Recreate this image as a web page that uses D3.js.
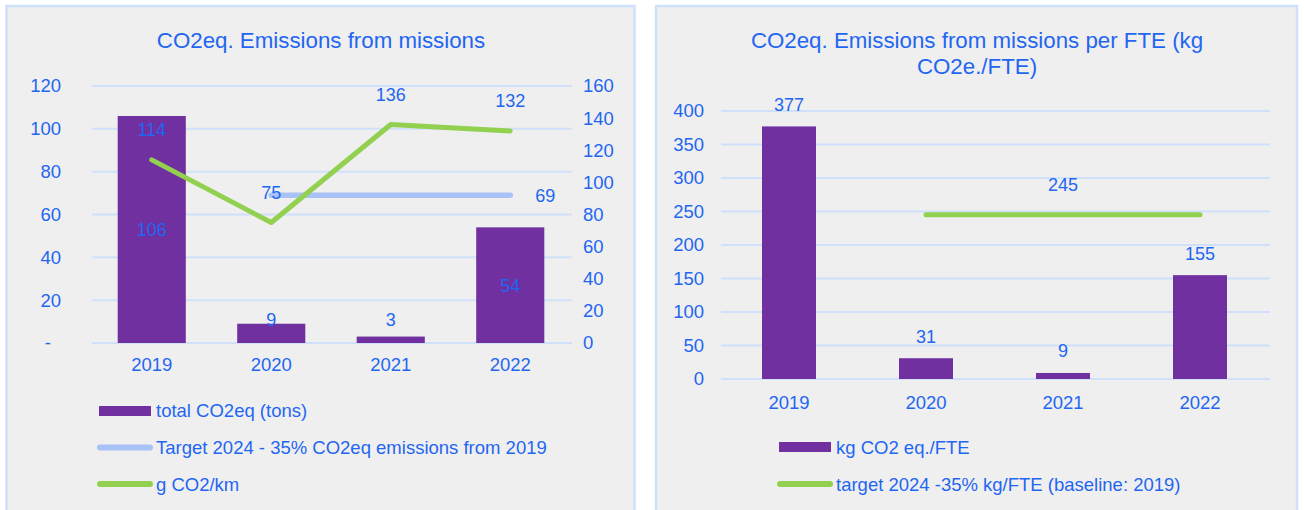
<!DOCTYPE html>
<html>
<head>
<meta charset="utf-8">
<script src="https://cdn.jsdelivr.net/npm/d3@7"></script>
<style>
  body { margin: 0; background: #ffffff; }
  svg text { font-family: "Liberation Sans", Arial, sans-serif; fill: #1f66f2; }
</style>
</head>
<body>
<div id="chart"></div>
<script>
// data
var years = ["2019", "2020", "2021", "2022"];
var totalCO2 = [106, 9, 3, 54];            // tons, left axis
var gCO2km = [114, 75, 136, 132];           // right axis
var target2024 = [null, 69, 69, 69];        // left axis
var kgPerFte = [377, 31, 9, 155];
var targetFte = [null, 245, 245, 245];

var leftTicks = [0, 20, 40, 60, 80, 100, 120];
var rightTicks = [0, 20, 40, 60, 80, 100, 120, 140, 160];
var fteTicks = [0, 50, 100, 150, 200, 250, 300, 350, 400];

var purple = "#7030a0";
var green = "#92d050";
var lightBlue = "#a9c2f6";
var gridColor = "#d0e0fb";
var textBlue = "#1f66f2";

var svg = d3.select("#chart")
  .append("svg")
  .attr("width", 1304)
  .attr("height", 510);

// panels
svg.append("rect")
  .attr("x", 6.5).attr("y", 6).attr("width", 628).attr("height", 520)
  .attr("fill", "#efefef").attr("stroke", "#cfe0fb").attr("stroke-width", 2.5);
svg.append("rect")
  .attr("x", 656).attr("y", 6).attr("width", 641).attr("height", 520)
  .attr("fill", "#efefef").attr("stroke", "#cfe0fb").attr("stroke-width", 2.5);

// ---------- left chart ----------
var x1 = d3.scaleBand()
  .domain(years)
  .range([92, 570])
  .paddingInner(0.43)
  .paddingOuter(0.215);

var y1 = d3.scaleLinear().domain([0, 120]).range([343, 86]);
var y1r = d3.scaleLinear().domain([0, 160]).range([343, 86]);

var left = svg.append("g");

left.selectAll(".grid")
  .data(leftTicks)
  .enter()
  .append("line")
  .attr("x1", 92).attr("x2", 572)
  .attr("y1", d => y1(d)).attr("y2", d => y1(d))
  .attr("stroke", gridColor).attr("stroke-width", 2);

var leftAxis = d3.axisLeft(y1).tickValues(leftTicks).tickSize(0).tickPadding(31)
  .tickFormat(d => d === 0 ? "-" : d);
var gl = left.append("g").attr("transform", "translate(92,0)").call(leftAxis);
gl.select(".domain").remove();
gl.selectAll("text").style("font-size", "18.5px").attr("fill", textBlue);
gl.selectAll("text").filter(d => d === 0).attr("dx", "-10");

var rightAxis = d3.axisRight(y1r).tickValues(rightTicks).tickSize(0).tickPadding(13);
var gr = left.append("g").attr("transform", "translate(570,0)").call(rightAxis);
gr.select(".domain").remove();
gr.selectAll("text").style("font-size", "18.5px").attr("fill", textBlue);

var bottom1 = d3.axisBottom(x1).tickSize(0).tickPadding(14.5);
var gb = left.append("g").attr("transform", "translate(0,343)").call(bottom1);
gb.select(".domain").remove();
gb.selectAll("text").style("font-size", "18.5px").attr("fill", textBlue);

// bars
left.selectAll(".bar")
  .data(totalCO2)
  .enter()
  .append("rect")
  .attr("x", (d, i) => x1(years[i]))
  .attr("y", d => y1(d))
  .attr("width", x1.bandwidth())
  .attr("height", d => y1(0) - y1(d))
  .attr("fill", purple);

// target line (left axis)
var targetPts = years.map((yr, i) => [yr, target2024[i]]).filter(p => p[1] !== null);
var line1 = d3.line()
  .x(p => x1(p[0]) + x1.bandwidth() / 2)
  .y(p => y1(p[1]));
left.append("path")
  .attr("d", line1(targetPts))
  .attr("fill", "none").attr("stroke", lightBlue)
  .attr("stroke-width", 5.5).attr("stroke-linecap", "round");

// g CO2/km (right axis)
var kmPts = years.map((yr, i) => [yr, gCO2km[i]]);
var line2 = d3.line()
  .x(p => x1(p[0]) + x1.bandwidth() / 2)
  .y(p => y1r(p[1]));
left.append("path")
  .attr("d", line2(kmPts))
  .attr("fill", "none").attr("stroke", green)
  .attr("stroke-width", 5).attr("stroke-linejoin", "round").attr("stroke-linecap", "round");

// bar labels
left.selectAll(".barlabel")
  .data(totalCO2)
  .enter()
  .append("text")
  .attr("x", (d, i) => x1(years[i]) + x1.bandwidth() / 2)
  .attr("y", d => Math.min((y1(d) + y1(0)) / 2, y1(0) - 23))
  .attr("dy", "0.36em")
  .attr("text-anchor", "middle")
  .style("font-size", "18px")
  .text(d => d);

// line labels
left.selectAll(".kmlabel")
  .data(gCO2km)
  .enter()
  .append("text")
  .attr("x", (d, i) => x1(years[i]) + x1.bandwidth() / 2)
  .attr("y", d => y1r(d) - 30)
  .attr("dy", "0.36em")
  .attr("text-anchor", "middle")
  .style("font-size", "18px")
  .text(d => d);

var lastT = targetPts[targetPts.length - 1];
left.append("text")
  .attr("x", x1(lastT[0]) + x1.bandwidth() / 2 + 25)
  .attr("y", y1(lastT[1]))
  .attr("dy", "0.36em")
  .style("font-size", "18px")
  .text(lastT[1]);

// title
left.append("text")
  .attr("x", 321).attr("y", 40).attr("dy", "0.36em")
  .attr("text-anchor", "middle")
  .style("font-size", "22.3px")
  .text("CO2eq. Emissions from missions");

// legend
var leg1 = left.append("g");
leg1.append("rect").attr("x", 99).attr("y", 406).attr("width", 52).attr("height", 10).attr("fill", purple);
leg1.append("line").attr("x1", 100).attr("x2", 150).attr("y1", 447.5).attr("y2", 447.5)
  .attr("stroke", lightBlue).attr("stroke-width", 6).attr("stroke-linecap", "round");
leg1.append("line").attr("x1", 100).attr("x2", 150).attr("y1", 484).attr("y2", 484)
  .attr("stroke", green).attr("stroke-width", 6).attr("stroke-linecap", "round");
var legTexts1 = ["total CO2eq (tons)", "Target 2024 - 35% CO2eq emissions from 2019", "g CO2/km"];
leg1.selectAll(".lt")
  .data(legTexts1)
  .enter()
  .append("text")
  .attr("x", 156)
  .attr("y", (d, i) => [410.5, 447.5, 484][i])
  .attr("dy", "0.36em")
  .style("font-size", "18.5px")
  .text(d => d);

// ---------- right chart ----------
var x2 = d3.scaleBand()
  .domain(years)
  .range([720.5, 1268.5])
  .paddingInner(0.606)
  .paddingOuter(0.303);

var y2 = d3.scaleLinear().domain([0, 400]).range([379, 111]);

var right = svg.append("g");

right.selectAll(".grid")
  .data(fteTicks)
  .enter()
  .append("line")
  .attr("x1", 721).attr("x2", 1270)
  .attr("y1", d => y2(d)).attr("y2", d => y2(d))
  .attr("stroke", gridColor).attr("stroke-width", 2);

var fteAxis = d3.axisLeft(y2).tickValues(fteTicks).tickSize(0).tickPadding(16.5);
var gf = right.append("g").attr("transform", "translate(720.5,0)").call(fteAxis);
gf.select(".domain").remove();
gf.selectAll("text").style("font-size", "18.5px").attr("fill", textBlue);

var bottom2 = d3.axisBottom(x2).tickSize(0).tickPadding(16.5);
var gb2 = right.append("g").attr("transform", "translate(0,379)").call(bottom2);
gb2.select(".domain").remove();
gb2.selectAll("text").style("font-size", "18.5px").attr("fill", textBlue);

right.selectAll(".bar")
  .data(kgPerFte)
  .enter()
  .append("rect")
  .attr("x", (d, i) => x2(years[i]))
  .attr("y", d => y2(d))
  .attr("width", x2.bandwidth())
  .attr("height", d => y2(0) - y2(d))
  .attr("fill", purple);

var ftePts = years.map((yr, i) => [yr, targetFte[i]]).filter(p => p[1] !== null);
var line3 = d3.line()
  .x(p => x2(p[0]) + x2.bandwidth() / 2)
  .y(p => y2(p[1]));
right.append("path")
  .attr("d", line3(ftePts))
  .attr("fill", "none").attr("stroke", green)
  .attr("stroke-width", 5).attr("stroke-linecap", "round");

right.selectAll(".barlabel")
  .data(kgPerFte)
  .enter()
  .append("text")
  .attr("x", (d, i) => x2(years[i]) + x2.bandwidth() / 2)
  .attr("y", d => y2(d) - 22)
  .attr("dy", "0.36em")
  .attr("text-anchor", "middle")
  .style("font-size", "18px")
  .text(d => d);

// target label sits above the middle point
var midT = ftePts[Math.floor(ftePts.length / 2)];
right.append("text")
  .attr("x", x2(midT[0]) + x2.bandwidth() / 2)
  .attr("y", y2(midT[1]) - 30)
  .attr("dy", "0.36em")
  .attr("text-anchor", "middle")
  .style("font-size", "18px")
  .text(midT[1]);

var title2 = right.append("text")
  .attr("text-anchor", "middle")
  .style("font-size", "22.3px");
title2.append("tspan").attr("x", 977).attr("y", 40).attr("dy", "0.36em")
  .text("CO2eq. Emissions from missions per FTE (kg");
title2.append("tspan").attr("x", 977).attr("y", 66).attr("dy", "0.36em")
  .text("CO2e./FTE)");

var leg2 = right.append("g");
leg2.append("rect").attr("x", 779).attr("y", 442).attr("width", 52).attr("height", 10).attr("fill", purple);
leg2.append("line").attr("x1", 780).attr("x2", 830).attr("y1", 484).attr("y2", 484)
  .attr("stroke", green).attr("stroke-width", 6).attr("stroke-linecap", "round");
var legTexts2 = ["kg CO2 eq./FTE", "target 2024 -35% kg/FTE (baseline: 2019)"];
leg2.selectAll(".lt")
  .data(legTexts2)
  .enter()
  .append("text")
  .attr("x", 836)
  .attr("y", (d, i) => [447, 484][i])
  .attr("dy", "0.36em")
  .style("font-size", "18.5px")
  .text(d => d);
</script>
</body>
</html>
